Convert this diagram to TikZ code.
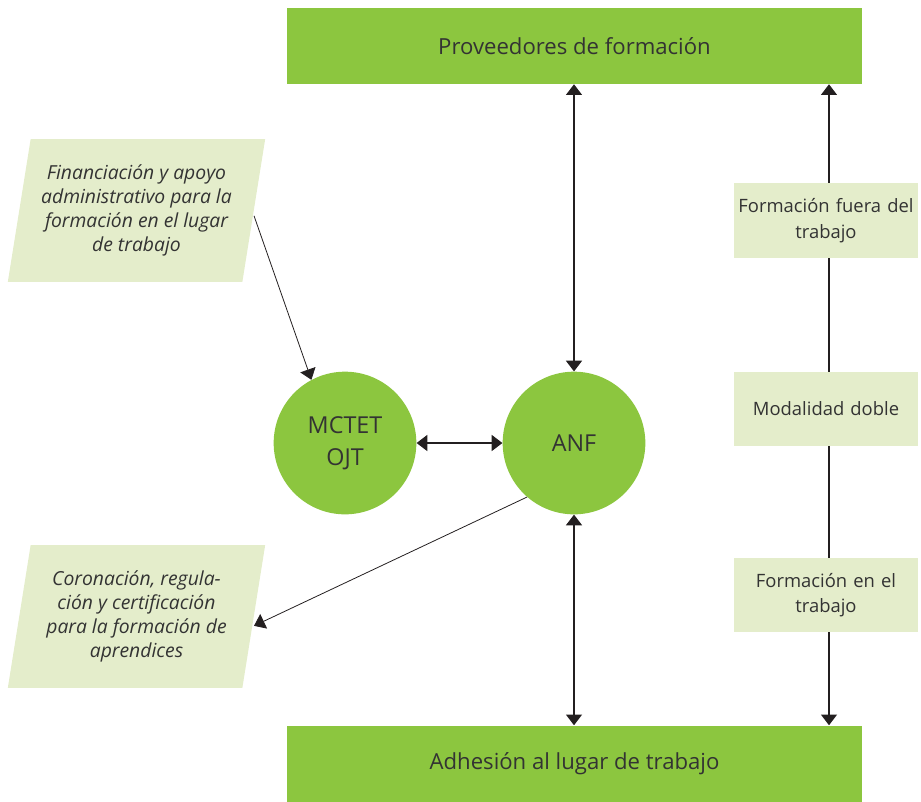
\documentclass[tikz,border=0pt]{standalone}
\usepackage{fontspec}
\setmainfont{Open Sans}
\usetikzlibrary{positioning, arrows.meta, shapes.geometric}
\definecolor{verde}{HTML}{8CC63F}
\definecolor{claro}{HTML}{E4EDCB}
\definecolor{texto}{HTML}{333333}
\definecolor{negro}{HTML}{231F20}

\begin{document}
\begin{tikzpicture}[x=0.75pt, y=-0.75pt,
  barra/.style={fill=verde, minimum width=431pt, minimum height=57pt, text=texto, font=\fontsize{16.6}{19}\selectfont},
  circulo/.style={circle, fill=verde, minimum size=107pt, inner sep=0pt, text=texto, align=center, font=\fontsize{17.5}{24}\selectfont},
  caja/.style={fill=claro, minimum width=138pt, minimum height=56pt, text width=132pt, inner sep=3pt, text=texto, align=center, font=\fontsize{13.8}{19}\selectfont},
  para/.style={trapezium, trapezium left angle=76, trapezium right angle=104, trapezium stretches body, fill=claro, minimum width=193pt, minimum height=107pt, inner sep=0pt, text=texto, align=center, font=\fontsize{14.5}{18}\selectfont\itshape},
  flecha/.style={draw=negro, line width=0.8pt, {Triangle[width=12pt,length=8pt]}-{Triangle[width=12pt,length=8pt]}},
  punta/.style={draw=negro, line width=0.6pt, -{Triangle[width=12pt,length=8pt]}}]
\useasboundingbox (0,0) rectangle (921,801);

\node[barra] (prov) at (574.5, 46) {Proveedores de formación};
\node[barra] (adh) at (574.5, 763.5) {Adhesión al lugar de trabajo};
\node[circulo] (mctet) at (345, 443) {MCTET\\OJT};
\node[circulo] (anf) at (574, 443) {ANF};
\node[para] (fin) at (136.5, 210.5) {Financiación y apoyo\\administrativo para la\\formación en el lugar\\de trabajo};
\node[para] (coro) at (136.5, 616.5) {Coronación, regula-\\ción y certificación\\para la formación de\\aprendices};

\coordinate (rx) at (829, 0);
\draw[flecha] (prov.south -| rx) -- (adh.north -| rx);

\node[caja] (fuera) at (826, 220.5) {Formación fuera del\\trabajo};
\node[caja] (doble) at (826, 409) {Modalidad doble};
\node[caja] (en) at (826, 595) {Formación en el\\trabajo};

\draw[flecha] (prov.south -| anf) -- (anf.north);
\draw[flecha] (anf.south) -- (adh.north -| anf);
\draw[flecha] (mctet) -- (anf);
\draw[punta] ([yshift=-4pt]fin.east) -- (mctet.118);
\draw[punta] (anf.229) -- ([yshift=-7pt]coro.east);

\end{tikzpicture}
\end{document}
